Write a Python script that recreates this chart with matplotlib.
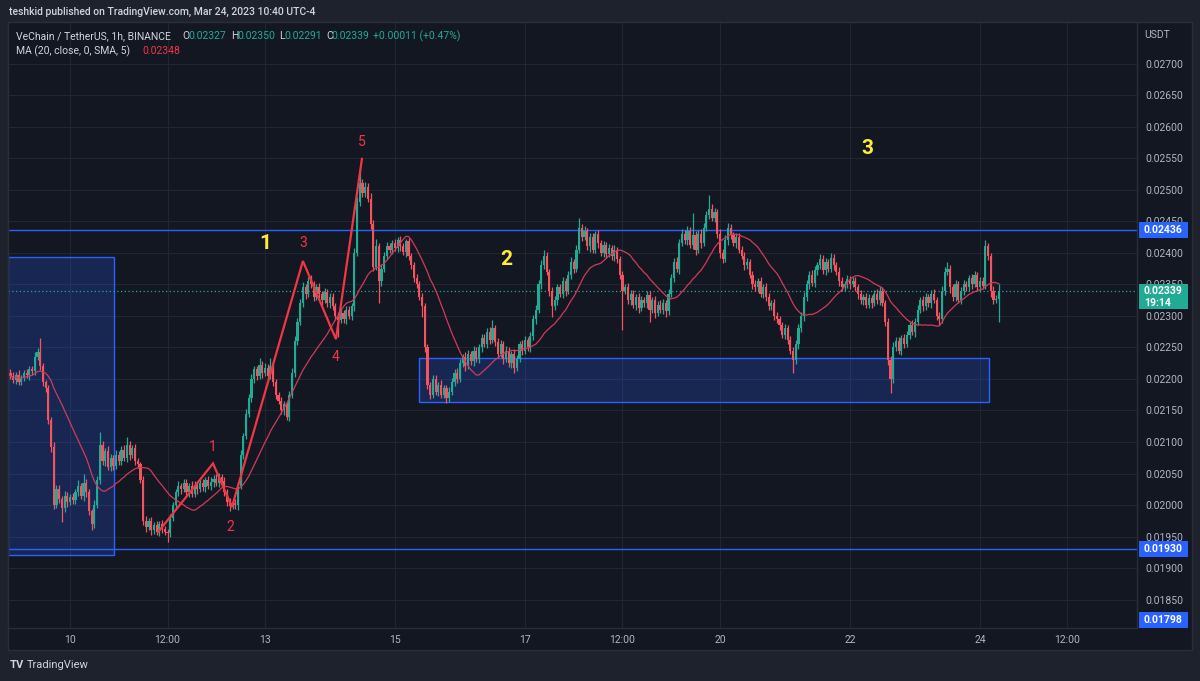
import numpy as np
import pandas as pd
import matplotlib
matplotlib.use("Agg")
import matplotlib.pyplot as plt
from matplotlib.patches import Rectangle
from matplotlib.transforms import blended_transform_factory

# ---------------- data (prices in units of 0.00001 USDT) ----------------
UNIT = 1e-5
first_open = 2210
closes = [
    2205, 2198, 2207, 2195, 2202, 2210, 2206, 2215, 2212, 2235,
    2243, 2220, 2195, 2185, 2135, 2092, 2000, 2025, 2010, 1995,
    2015, 2005, 2012, 2008, 2020, 2030, 2015, 2035, 2020, 1990,
    1970, 2000, 2040, 2095, 2070, 2085, 2060, 2075, 2062, 2080,
    2070, 2088, 2075, 2095, 2080, 2090, 2070, 2065, 2040, 1975,
    1965, 1975, 1960, 1968, 1958, 1970, 1962, 1958, 1955, 1980,
    2000, 2020, 2030, 2025, 2035, 2020, 2030, 2018, 2032, 2025,
    2035, 2028, 2040, 2030, 2036, 2042, 2035, 2045, 2038, 2020,
    2005, 1998, 2003, 2000, 2030, 2080, 2110, 2145, 2170, 2200,
    2215, 2205, 2222, 2210, 2218, 2205, 2220, 2195, 2175, 2165,
    2150, 2160, 2140, 2175, 2210, 2260, 2290, 2320, 2345, 2335,
    2355, 2350, 2330, 2345, 2335, 2325, 2338, 2320, 2330, 2315,
    2300, 2293, 2305, 2295, 2310, 2300, 2315, 2400, 2480, 2510,
    2495, 2505, 2485, 2445, 2378, 2410, 2355, 2375, 2395, 2410,
    2405, 2415, 2408, 2420, 2410, 2402, 2418, 2395, 2380, 2360,
    2350, 2330, 2315, 2250, 2190, 2175, 2200, 2180, 2190, 2175,
    2185, 2170, 2180, 2195, 2210, 2200, 2225, 2235, 2220, 2240,
    2228, 2245, 2232, 2250, 2265, 2255, 2275, 2262, 2280, 2258,
    2240, 2255, 2232, 2245, 2225, 2240, 2218, 2232, 2255, 2245,
    2262, 2250, 2268, 2295, 2310, 2350, 2380, 2395, 2370, 2340,
    2315, 2325, 2345, 2335, 2355, 2340, 2365, 2385, 2375, 2405,
    2440, 2425, 2435, 2410, 2425, 2405, 2430, 2415, 2400, 2412,
    2398, 2408, 2395, 2405, 2390, 2365, 2340, 2345, 2325, 2335,
    2318, 2330, 2312, 2325, 2320, 2333, 2310, 2325, 2305, 2318,
    2310, 2320, 2308, 2335, 2360, 2385, 2375, 2415, 2430, 2420,
    2435, 2412, 2428, 2405, 2430, 2415, 2440, 2460, 2470, 2455,
    2465, 2430, 2400, 2390, 2420, 2440, 2428, 2415, 2425, 2405,
    2395, 2380, 2385, 2365, 2350, 2345, 2355, 2335, 2345, 2330,
    2315, 2320, 2300, 2295, 2285, 2270, 2280, 2262, 2245, 2230,
    2255, 2280, 2300, 2330, 2350, 2365, 2352, 2372, 2380, 2390,
    2372, 2385, 2375, 2392, 2380, 2370, 2355, 2345, 2350, 2358,
    2350, 2355, 2345, 2335, 2325, 2330, 2318, 2328, 2320, 2335,
    2325, 2340, 2320, 2290, 2230, 2200, 2250, 2260, 2245, 2265,
    2255, 2270, 2285, 2275, 2290, 2310, 2325, 2315, 2330, 2320,
    2335, 2325, 2300, 2295, 2340, 2370, 2375, 2345, 2330, 2350,
    2325, 2340, 2350, 2345, 2360, 2350, 2365, 2345, 2355, 2348,
    2410, 2395, 2340, 2325, 2327, 2339,
]
upper_wick = [
    5, 6, 4, 7, 5, 4, 6, 5, 6, 8,
    6, 22, 5, 4, 6, 5, 8, 6, 7, 5,
    8, 6, 5, 7, 6, 9, 5, 15, 6, 5,
    4, 8, 6, 21, 7, 5, 8, 6, 5, 7,
    6, 5, 7, 13, 6, 5, 6, 5, 4, 6,
    7, 5, 6, 5, 7, 4, 6, 5, 4, 6,
    5, 6, 8, 5, 7, 6, 5, 8, 6, 5,
    6, 7, 5, 6, 8, 5, 7, 6, 5, 6,
    5, 6, 4, 7, 6, 8, 5, 7, 6, 8,
    6, 5, 11, 6, 7, 5, 13, 6, 5, 4,
    6, 5, 4, 6, 7, 8, 6, 7, 8, 6,
    7, 10, 5, 6, 7, 5, 6, 5, 7, 6,
    5, 6, 7, 5, 6, 5, 6, 8, 9, 21,
    7, 8, 6, 10, 7, 12, 6, 8, 6, 7,
    6, 5, 7, 5, 6, 5, 4, 6, 5, 6,
    7, 5, 6, 5, 6, 5, 7, 6, 5, 8,
    6, 5, 7, 6, 5, 7, 6, 5, 7, 6,
    5, 7, 6, 5, 7, 6, 5, 8, 13, 6,
    7, 6, 5, 7, 6, 5, 7, 6, 5, 7,
    6, 5, 7, 6, 8, 7, 9, 9, 6, 5,
    6, 7, 5, 6, 7, 5, 6, 8, 5, 7,
    15, 6, 7, 5, 6, 7, 5, 6, 5, 7,
    5, 6, 5, 7, 4, 5, 6, 5, 7, 6,
    6, 5, 7, 6, 5, 7, 6, 5, 6, 5,
    7, 6, 5, 8, 7, 6, 9, 7, 8, 6,
    7, 6, 35, 7, 6, 8, 7, 6, 22, 7,
    6, 5, 7, 6, 8, 7, 6, 5, 7, 6,
    5, 6, 7, 5, 6, 7, 5, 6, 5, 7,
    6, 5, 7, 6, 5, 6, 7, 5, 6, 5,
    6, 7, 6, 8, 7, 6, 8, 7, 6, 8,
    6, 7, 5, 8, 6, 5, 7, 6, 5, 6,
    5, 6, 7, 5, 6, 5, 7, 6, 5, 6,
    7, 8, 6, 5, 7, 6, 8, 7, 6, 5,
    7, 6, 5, 8, 6, 7, 5, 6, 7, 5,
    6, 7, 5, 6, 8, 7, 10, 6, 5, 7,
    6, 5, 7, 6, 5, 7, 6, 5, 6, 7,
    10, 6, 5, 7, 6, 11,
]
lower_wick = [
    5, 4, 6, 5, 4, 6, 5, 7, 5, 6,
    5, 6, 7, 5, 6, 8, 6, 5, 7, 22,
    6, 8, 5, 6, 7, 5, 6, 8, 7, 6,
    10, 6, 5, 7, 6, 8, 5, 6, 7, 5,
    6, 7, 5, 6, 8, 5, 7, 6, 5, 6,
    8, 5, 7, 6, 5, 7, 6, 5, 14, 6,
    5, 7, 6, 8, 5, 6, 7, 5, 6, 7,
    5, 6, 7, 5, 6, 8, 5, 6, 7, 5,
    6, 7, 5, 6, 8, 5, 7, 6, 5, 6,
    7, 6, 5, 8, 6, 7, 5, 6, 7, 5,
    6, 7, 5, 6, 5, 7, 6, 5, 6, 8,
    5, 6, 7, 5, 6, 7, 5, 6, 8, 6,
    7, 27, 5, 6, 8, 5, 6, 7, 5, 6,
    6, 7, 5, 8, 7, 6, 35, 8, 6, 5,
    6, 7, 5, 6, 7, 5, 8, 6, 5, 7,
    6, 5, 17, 8, 6, 7, 5, 6, 7, 5,
    6, 8, 7, 5, 6, 7, 5, 6, 8, 5,
    6, 7, 5, 6, 8, 5, 6, 7, 5, 6,
    7, 6, 8, 5, 6, 7, 9, 6, 5, 7,
    6, 5, 7, 6, 8, 6, 7, 5, 6, 8,
    17, 6, 7, 5, 6, 8, 5, 6, 7, 5,
    6, 7, 5, 6, 8, 5, 6, 7, 5, 6,
    7, 5, 6, 8, 6, 7, 63, 5, 6, 7,
    6, 8, 7, 5, 6, 7, 20, 6, 8, 5,
    6, 7, 10, 6, 5, 7, 6, 8, 5, 6,
    7, 5, 6, 8, 6, 7, 5, 6, 7, 5,
    6, 7, 8, 6, 5, 7, 6, 5, 7, 6,
    5, 7, 6, 5, 8, 6, 7, 5, 6, 7,
    6, 5, 7, 6, 8, 5, 6, 7, 5, 21,
    6, 7, 5, 8, 6, 7, 5, 6, 7, 5,
    6, 7, 5, 6, 8, 5, 7, 6, 5, 6,
    7, 5, 6, 8, 6, 7, 5, 6, 7, 5,
    6, 7, 5, 6, 8, 23, 7, 6, 5, 7,
    6, 5, 7, 6, 8, 5, 6, 7, 5, 6,
    7, 5, 6, 10, 6, 7, 5, 8, 6, 7,
    5, 6, 7, 5, 6, 8, 5, 6, 7, 5,
    6, 7, 10, 6, 5, 36,
]
first_candle_hour = 2          # hours since Mar 9 00:00

tick_hours = [24, 60, 96, 144, 192, 228, 264, 312, 360, 392]
tick_labels = ["10", "12:00", "13", "15", "17", "12:00", "20", "22", "24", "12:00"]
price_ticks = [0.0185, 0.0190, 0.0195, 0.0200, 0.0205, 0.0210, 0.0215, 0.0220, 0.0225,
               0.0230, 0.0235, 0.0240, 0.0245, 0.0250, 0.0255, 0.0260, 0.0265, 0.0270]

# Elliott wave drawing
wave_hours = [56.5, 76.8, 83.8, 110.0, 122.2, 131.8]
wave_prices = [0.01957, 0.02066, 0.01997, 0.02387, 0.02263, 0.02549]
wave_label_text = ["1", "2", "3", "4", "5"]
wave_label_hours = [76.8, 83.1, 110.0, 122.2, 131.8]
wave_label_prices = [0.02092, 0.01965, 0.02415, 0.02235, 0.02576]
big_label_text = ["1", "2", "3"]
big_label_hours = [96, 185, 318.3]
big_label_prices = [0.02415, 0.02390, 0.02566]

# zones and levels
zone_hours = [(1.1, 40.2), (152.9, 363.4)]
zone_prices = [(0.01921, 0.02393), (0.02163, 0.02233)]
level_prices = [0.02436, 0.01930]
last_price = 0.02339
low_level_label = "0.01798"
ma_last_label = "0.02348"

# ---------------- computation ----------------
c = np.array(closes) * UNIT
o = np.concatenate([[first_open], closes[:-1]]) * UNIT
hi = np.maximum(o, c) + np.array(upper_wick) * UNIT
lo = np.minimum(o, c) - np.array(lower_wick) * UNIT
hours = first_candle_hour + np.arange(len(c))
ma = pd.Series(c).rolling(20, min_periods=1).mean().values

UP = "#22ab94"
DOWN = "#f7525f"
BG = "#131722"
OUTER = "#1e222d"
GRID = "#222633"
BORDER = "#2a2e39"
TXT = "#b2b5be"
BLUE = "#2962ff"
FONT = "Roboto"

W, H = 1200, 681
def fx(px): return px / W
def fy(py): return 1 - py / H

fig = plt.figure(figsize=(12, 6.81), dpi=100, facecolor=OUTER)
# background of chart + axes scales
fig.patches.append(Rectangle((fx(8), fy(650)), fx(1192) - fx(8), fy(22) - fy(650),
                             transform=fig.transFigure, facecolor=BG, edgecolor=BORDER,
                             linewidth=1, zorder=-5))

ax = fig.add_axes([fx(8), fy(628), fx(1137) - fx(8), fy(22) - fy(628)])
ax.set_zorder(1)
ax.set_facecolor(BG)
ax.set_xlim(1.1, 418)
ax.set_ylim(0.01805, 0.02766)

ax.set_yticks(price_ticks)
ax.set_yticklabels([f"{p:.5f}" for p in price_ticks])
ax.yaxis.tick_right()
ax.set_xticks(tick_hours)
ax.set_xticklabels(tick_labels)
ax.tick_params(axis="both", length=0, colors=TXT, labelsize=7.5)
ax.tick_params(axis="y", pad=6)
ax.tick_params(axis="x", pad=5)
for lab in ax.get_xticklabels() + ax.get_yticklabels():
    lab.set_fontfamily(FONT)
ax.grid(True, color=GRID, linewidth=0.8)
ax.set_axisbelow(True)
for s in ax.spines.values():
    s.set_color(BORDER)
    s.set_linewidth(1)

# zones
for (h0, h1), (p0, p1) in zip(zone_hours, zone_prices):
    ax.add_patch(Rectangle((h0, p0), h1 - h0, p1 - p0, facecolor=BLUE, alpha=0.22,
                           edgecolor="none", zorder=1))
    ax.add_patch(Rectangle((h0, p0), h1 - h0, p1 - p0, facecolor="none",
                           edgecolor=BLUE, linewidth=1, zorder=1.1))
for lv in level_prices:
    ax.axhline(lv, color=BLUE, linewidth=1, zorder=1.2)
ax.axhline(last_price, color=UP, linewidth=0.9, linestyle=(0, (1, 2)), zorder=1.2)

# candles
colors = np.where(c >= o, UP, DOWN)
ax.vlines(hours, lo, hi, colors=colors, linewidth=0.9, zorder=2)
body_bottom = np.minimum(o, c)
body_h = np.maximum(np.abs(c - o), 0.3 * UNIT)
ax.bar(hours, body_h, bottom=body_bottom, width=0.8, color=colors, linewidth=0, zorder=2.1)

# moving average
ax.plot(hours, ma, color="#d23a5a", linewidth=0.9, zorder=2.5)

# elliott wave lines & labels
ax.plot(wave_hours, wave_prices, color="#f23645", linewidth=1.6, zorder=3,
        solid_joinstyle="miter")
for t, hx, py in zip(wave_label_text, wave_label_hours, wave_label_prices):
    ax.text(hx, py, t, color="#f23645", fontsize=10, ha="center", va="center",
            fontfamily=FONT, zorder=4)
for t, hx, py in zip(big_label_text, big_label_hours, big_label_prices):
    ax.text(hx, py, t, color="#ffeb3b", fontsize=15, fontweight="bold", ha="center",
            va="center", fontfamily=FONT, zorder=4)

# price axis badges
ymin, ymax = ax.get_ylim()
ppp = (ymax - ymin) / (628 - 22)
tr = blended_transform_factory(fig.transFigure, ax.transData)

def badge(price, text, color, top_px=8, bot_px=8, text_offsets=(0,)):
    fig.patches.append(Rectangle((fx(1139), price - bot_px * ppp), fx(1188) - fx(1139),
                                 (top_px + bot_px) * ppp, transform=tr, facecolor=color,
                                 edgecolor="none", zorder=5))
    for line, off in zip(text.split("\n"), text_offsets):
        fig.text(fx(1144), price - off * ppp, line, transform=tr, color="white",
                 fontsize=7.5, fontweight="bold", va="center", ha="left",
                 fontfamily=FONT, zorder=6)

badge(level_prices[0], f"{level_prices[0]:.5f}", BLUE)
badge(level_prices[1], f"{level_prices[1]:.5f}", BLUE)
badge(last_price, f"{last_price:.5f}\n19:14", UP, top_px=7, bot_px=18, text_offsets=(0, 12))
lp = ymin + 8 * ppp
badge(lp, low_level_label, BLUE)

fig.text(fx(1144), fy(35), "USDT", color=TXT, fontsize=7.5, va="center", ha="left",
         fontfamily=FONT)

# header
fig.text(fx(9), fy(12), "teshkid published on TradingView.com, Mar 24, 2023 10:40 UTC-4",
         color="#d1d4dc", fontsize=7.5, fontweight="medium", va="center", ha="left",
         fontfamily=FONT)

legend_parts = [
    (16, "VeChain / TetherUS, 1h, BINANCE", "#d1d4dc"),
    (182, "O", "#d1d4dc"), (188, "0.02327", UP),
    (231, "H", "#d1d4dc"), (237, "0.02350", UP),
    (279, "L", "#d1d4dc"), (284, "0.02291", UP),
    (326, "C", "#d1d4dc"), (331, "0.02339", UP),
    (373, "+0.00011 (+0.47%)", UP),
]
for xp, t, col in legend_parts:
    fig.text(fx(xp), fy(36), t, color=col, fontsize=7.5, va="center", ha="left",
             fontfamily=FONT, zorder=7)
fig.text(fx(16), fy(51), "MA (20, close, 0, SMA, 5)", color="#d1d4dc", fontsize=7.5,
         va="center", ha="left", fontfamily=FONT, zorder=7)
fig.text(fx(142), fy(51), ma_last_label, color="#f23645", fontsize=7.5, va="center",
         ha="left", fontfamily=FONT, zorder=7)

# footer logo
fig.text(fx(10), fy(665), "TV", color="#d1d4dc", fontsize=8, fontweight="bold",
         va="center", ha="left", fontfamily=FONT)
fig.text(fx(27), fy(665), "TradingView", color="#d1d4dc", fontsize=8, va="center",
         ha="left", fontfamily=FONT)

fig.savefig("out.png", dpi=100, facecolor=OUTER)
